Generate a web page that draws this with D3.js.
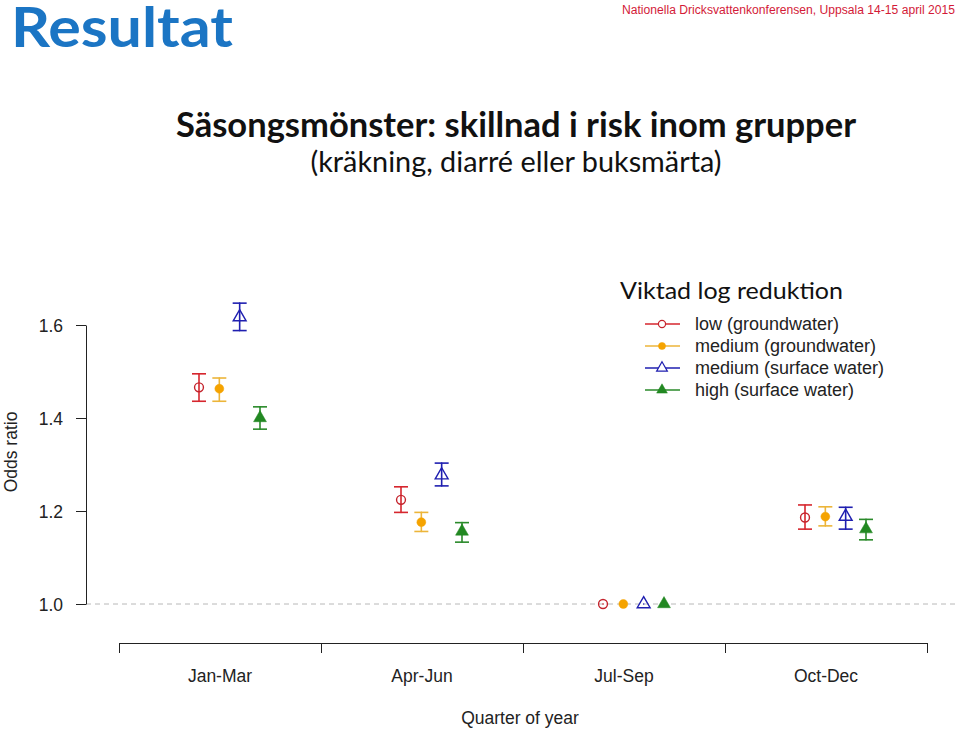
<!DOCTYPE html>
<html lang="sv">
<head>
    <meta charset="UTF-8">
    <title>Säsongsmönster</title>
    <script type="text/javascript" src="https://cdn.jsdelivr.net/npm/d3@7/dist/d3.min.js"></script>
    <style>
        body { margin: 0; background: #fff; }
        svg { display: block; }
    </style>
</head>
<body>
<script>
    // quarters on the x axis, water groups as series
    var quarters = ["Jan-Mar", "Apr-Jun", "Jul-Sep", "Oct-Dec"];
    var groups = ["low (groundwater)", "medium (groundwater)",
        "medium (surface water)", "high (surface water)"];

    // odds ratio per group (rows) and quarter (columns), Jul-Sep is reference
    var estimate = [
        [1.466, 1.224, 1.0, 1.186],
        [1.463, 1.176, 1.0, 1.188],
        [1.617, 1.277, 1.0, 1.188],
        [1.400, 1.156, 1.0, 1.161]
    ];
    var lower = [
        [1.436, 1.197, 1.0, 1.161],
        [1.436, 1.156, 1.0, 1.168],
        [1.588, 1.254, 1.0, 1.161],
        [1.376, 1.133, 1.0, 1.138]
    ];
    var upper = [
        [1.495, 1.252, 1.0, 1.213],
        [1.486, 1.197, 1.0, 1.209],
        [1.647, 1.303, 1.0, 1.208],
        [1.424, 1.175, 1.0, 1.182]
    ];
    var yTicks = [1.0, 1.2, 1.4, 1.6];

    var lineColors = ["#d6262e", "#ecb53a", "#1f1fb0", "#2a8a2a"];
    var markColors = ["#c4232c", "#f5a300", "#1f1fb0", "#228822"];
    var shapes = [d3.symbolCircle, d3.symbolCircle, d3.symbolTriangle, d3.symbolTriangle];
    var filled = [false, true, false, true];

    var w = 959;
    var h = 730;
    var svg = d3.select("body")
        .append("svg")
        .attr("width", w)
        .attr("height", h);

    // slide header
    svg.append("text")
        .text("Resultat")
        .attr("x", 11)
        .attr("y", 47)
        .attr("font-family", "Lato, 'Open Sans', sans-serif")
        .attr("font-weight", "bold")
        .attr("font-size", "55px")
        .attr("textLength", 222)
        .attr("lengthAdjust", "spacingAndGlyphs")
        .attr("fill", "#1b75c4");
    svg.append("text")
        .text("Nationella Dricksvattenkonferensen, Uppsala 14-15 april 2015")
        .attr("x", 955)
        .attr("y", 14)
        .attr("text-anchor", "end")
        .attr("font-family", "'Liberation Sans Narrow', 'Liberation Sans', Arial, sans-serif")
        .attr("font-size", "12.5px")
        .attr("textLength", 333)
        .attr("lengthAdjust", "spacingAndGlyphs")
        .attr("fill", "#d31a38");
    svg.append("text")
        .text("Säsongsmönster: skillnad i risk inom grupper")
        .attr("x", 516)
        .attr("y", 137)
        .attr("text-anchor", "middle")
        .attr("font-family", "Lato, 'Open Sans', sans-serif")
        .attr("font-weight", "bold")
        .attr("font-size", "34px")
        .attr("textLength", 680)
        .attr("lengthAdjust", "spacingAndGlyphs")
        .attr("fill", "#111");
    svg.append("text")
        .text("(kräkning, diarré eller buksmärta)")
        .attr("x", 516)
        .attr("y", 172)
        .attr("text-anchor", "middle")
        .attr("font-family", "Lato, 'Open Sans', sans-serif")
        .attr("font-size", "28px")
        .attr("textLength", 411)
        .attr("lengthAdjust", "spacingAndGlyphs")
        .attr("fill", "#111");

    // scales
    var y = d3.scaleLinear().domain([1.0, 1.6]).range([604, 325]);
    var x = d3.scaleBand().domain(quarters).range([119, 927]);
    var xBound = d3.scaleLinear().domain([0, quarters.length]).range([119, 927]);
    var dodge = d3.scalePoint().domain(d3.range(groups.length)).range([-21, 40]);

    var axisFont = "'Liberation Sans', Arial, Helvetica, sans-serif";

    // reference line at OR = 1
    svg.append("line")
        .attr("x1", 86)
        .attr("x2", w)
        .attr("y1", y(1))
        .attr("y2", y(1))
        .attr("stroke", "#b8b8b8")
        .attr("stroke-dasharray", "5,4");

    // y axis
    var yAxis = svg.append("g")
        .attr("transform", "translate(86,0)")
        .call(d3.axisLeft(y).tickValues(yTicks).tickFormat(d3.format(".1f")).tickSize(10).tickSizeOuter(0));
    yAxis.select(".domain").attr("stroke", "#222");
    yAxis.selectAll(".tick line").attr("stroke", "#222");
    yAxis.selectAll(".tick text")
        .attr("x", -23)
        .attr("dy", "0.36em")
        .attr("font-family", axisFont)
        .attr("font-size", "17.5px")
        .attr("fill", "#222");

    // x axis: ticks at the quarter boundaries, labels in the middle
    var xAxis = svg.append("g")
        .attr("transform", "translate(0,643)")
        .call(d3.axisBottom(xBound).tickValues(d3.range(quarters.length + 1)).tickFormat("").tickSize(10).tickSizeOuter(0));
    xAxis.select(".domain").attr("stroke", "#222");
    xAxis.selectAll(".tick line").attr("stroke", "#222");

    var xLabels = svg.append("g")
        .attr("transform", "translate(0,643)")
        .call(d3.axisBottom(x).tickSize(0));
    xLabels.select(".domain").remove();
    xLabels.selectAll(".tick text")
        .attr("y", 39)
        .attr("dy", 0)
        .attr("font-family", axisFont)
        .attr("font-size", "17.5px")
        .attr("fill", "#222");

    svg.append("text")
        .text("Quarter of year")
        .attr("x", 520)
        .attr("y", 724)
        .attr("text-anchor", "middle")
        .attr("font-family", axisFont)
        .attr("font-size", "17.5px")
        .attr("fill", "#222");
    svg.append("text")
        .text("Odds ratio")
        .attr("transform", "translate(17,452) rotate(-90)")
        .attr("text-anchor", "middle")
        .attr("font-family", axisFont)
        .attr("font-size", "17.5px")
        .attr("fill", "#222");

    // error bars and markers
    groups.forEach(function (g, gi) {
        var pts = quarters.map(function (q, qi) {
            return {q: q, est: estimate[gi][qi], lo: lower[gi][qi], hi: upper[gi][qi]};
        });
        var layer = svg.append("g").attr("class", "series");
        var cx = function (d) { return x(d.q) + x.bandwidth() / 2 + dodge(gi); };
        var ci = pts.filter(function (d) { return d.hi > d.lo; });

        // a zero-length interval shows up as a dot, as in the R plot
        layer.selectAll("line.bar")
            .data(pts)
            .enter()
            .append("line")
            .attr("class", "bar")
            .attr("x1", cx)
            .attr("x2", cx)
            .attr("y1", function (d) { return y(d.lo); })
            .attr("y2", function (d) { return y(d.hi); })
            .attr("stroke", lineColors[gi])
            .attr("stroke-width", 1.6)
            .attr("stroke-linecap", "round");
        ["lo", "hi"].forEach(function (k) {
            layer.selectAll("line.cap-" + k)
                .data(ci)
                .enter()
                .append("line")
                .attr("class", "cap-" + k)
                .attr("x1", function (d) { return cx(d) - 7; })
                .attr("x2", function (d) { return cx(d) + 7; })
                .attr("y1", function (d) { return y(d[k]); })
                .attr("y2", function (d) { return y(d[k]); })
                .attr("stroke", lineColors[gi])
                .attr("stroke-width", 1.6);
        });

        layer.selectAll("path.mark")
            .data(pts)
            .enter()
            .append("path")
            .attr("class", "mark")
            .attr("transform", function (d) { return "translate(" + cx(d) + "," + y(d.est) + ")"; })
            .attr("d", d3.symbol().type(shapes[gi]).size(shapes[gi] === d3.symbolCircle ? 62 : 72))
            .attr("fill", filled[gi] ? markColors[gi] : "none")
            .attr("stroke", markColors[gi])
            .attr("stroke-width", filled[gi] ? 0.5 : 1.4);
    });

    // legend
    svg.append("text")
        .text("Viktad log reduktion")
        .attr("x", 620)
        .attr("y", 299)
        .attr("font-family", "Lato, 'Open Sans', sans-serif")
        .attr("font-size", "24px")
        .attr("textLength", 223)
        .attr("lengthAdjust", "spacingAndGlyphs")
        .attr("fill", "#111");

    var legend = svg.selectAll("g.legend")
        .data(groups)
        .enter()
        .append("g")
        .attr("class", "legend")
        .attr("transform", function (d, i) { return "translate(645," + (324 + i * 22) + ")"; });
    legend.append("line")
        .attr("x1", 0)
        .attr("x2", 35)
        .attr("stroke", function (d, i) { return lineColors[i]; })
        .attr("stroke-width", 1.4);
    legend.append("path")
        .attr("transform", "translate(17,0)")
        .attr("d", function (d, i) {
            return d3.symbol().type(shapes[i]).size(shapes[i] === d3.symbolCircle ? 40 : 50)();
        })
        .attr("fill", function (d, i) { return filled[i] ? markColors[i] : "#fff"; })
        .attr("stroke", function (d, i) { return markColors[i]; })
        .attr("stroke-width", function (d, i) { return filled[i] ? 0.5 : 1.2; });
    legend.append("text")
        .text(function (d) { return d; })
        .attr("x", 50)
        .attr("dy", "0.36em")
        .attr("font-family", axisFont)
        .attr("font-size", "18px")
        .attr("fill", "#222");
</script>
</body>
</html>
